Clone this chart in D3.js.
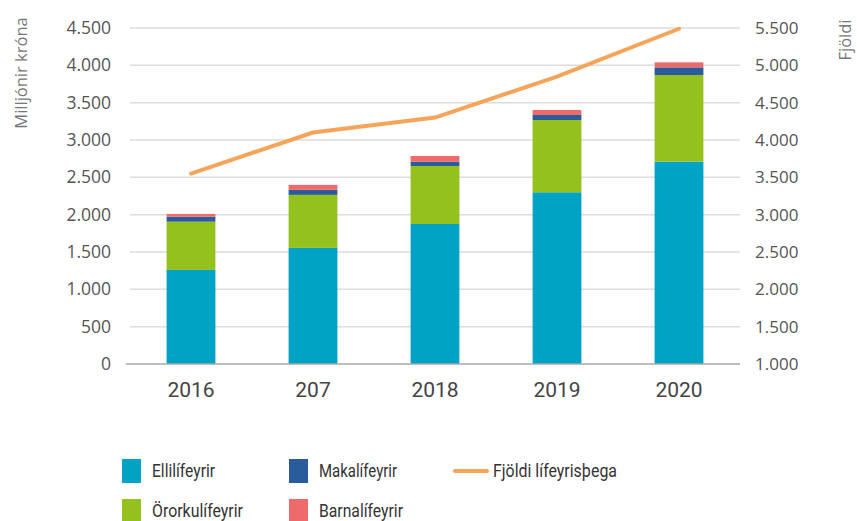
<!DOCTYPE html>
<html>
<head>
<meta charset="utf-8">
<script src="https://cdn.jsdelivr.net/npm/d3@7"></script>
<style>
  body { margin: 0; background: #fff; }
  svg { display: block; }
</style>
</head>
<body>
<svg id="chart" width="857" height="521"></svg>
<script>
const years = ["2016", "207", "2018", "2019", "2020"];
const ellilifeyrir = [1260, 1555, 1875, 2300, 2710];
const ororkulifeyrir = [646, 710, 777, 968, 1160];
const makalifeyrir = [67, 67, 57, 67, 103];
const barnalifeyrir = [37, 67, 77, 67, 67];
const fjoldi = [3550, 4100, 4300, 4850, 5490];
const leftTicks = [0, 500, 1000, 1500, 2000, 2500, 3000, 3500, 4000, 4500];
const rightTicks = [1000, 1500, 2000, 2500, 3000, 3500, 4000, 4500, 5000, 5500];

const seriesNames = ["Ellilífeyrir", "Örorkulífeyrir", "Makalífeyrir", "Barnalífeyrir"];
const colors = ["#00a3c4", "#95c11f", "#2a5c9c", "#ef6b6b"];
const lineColor = "#f5a55a";

const svg = d3.select("#chart");
const plotLeft = 130, plotRight = 740, plotTop = 28, plotBottom = 364;

const x = d3.scaleBand().domain(years).range([plotLeft, plotRight])
  .paddingInner(0.6).paddingOuter(0.3);
const y = d3.scaleLinear().domain([0, 4500]).range([plotBottom, plotTop]);
const y2 = d3.scaleLinear().domain([1000, 5500]).range([plotBottom, plotTop]);

const fmt = d => d3.format(",")(d).replace(/,/g, ".");

// grid
svg.append("g")
  .selectAll("line")
  .data(leftTicks.slice(1))
  .join("line")
  .attr("x1", plotLeft).attr("x2", plotRight)
  .attr("y1", d => y(d)).attr("y2", d => y(d))
  .attr("stroke", "#dcdcdc")
  .attr("stroke-width", 1.5);

// stacked bars
const table = years.map((yr, i) => ({
  year: yr,
  s0: ellilifeyrir[i], s1: ororkulifeyrir[i], s2: makalifeyrir[i], s3: barnalifeyrir[i]
}));
const stack = d3.stack().keys(["s0", "s1", "s2", "s3"])(table);

svg.append("g")
  .selectAll("g")
  .data(stack)
  .join("g")
  .attr("fill", (d, i) => colors[i])
  .selectAll("rect")
  .data(d => d)
  .join("rect")
  .attr("x", d => x(d.data.year))
  .attr("width", x.bandwidth())
  .attr("y", d => y(d[1]))
  .attr("height", d => y(d[0]) - y(d[1]));

// baseline
svg.append("line")
  .attr("x1", plotLeft - 4).attr("x2", plotRight)
  .attr("y1", plotBottom).attr("y2", plotBottom)
  .attr("stroke", "#a8a8a8")
  .attr("stroke-width", 1.5);

// line series
const line = d3.line()
  .x((d, i) => x(years[i]) + x.bandwidth() / 2)
  .y(d => y2(d));
svg.append("path")
  .datum(fjoldi)
  .attr("d", line)
  .attr("fill", "none")
  .attr("stroke", lineColor)
  .attr("stroke-width", 4)
  .attr("stroke-linecap", "round");

// left axis
const axisFont = "'Open Sans', 'Noto Sans', sans-serif";
const yAxis = svg.append("g")
  .attr("transform", `translate(${plotLeft - 19},0)`)
  .call(d3.axisLeft(y).tickValues(leftTicks).tickFormat(fmt).tickSize(0).tickPadding(0));
yAxis.select(".domain").remove();
yAxis.selectAll("text")
  .attr("font-family", axisFont)
  .attr("font-size", 17.5)
  .attr("fill", "#555");

// right axis
const y2Axis = svg.append("g")
  .attr("transform", `translate(${plotRight + 15},0)`)
  .call(d3.axisRight(y2).tickValues(rightTicks).tickFormat(fmt).tickSize(0).tickPadding(0));
y2Axis.select(".domain").remove();
y2Axis.selectAll("text")
  .attr("font-family", axisFont)
  .attr("font-size", 17)
  .attr("fill", "#555");

// x axis
const xAxis = svg.append("g")
  .attr("transform", `translate(0,${plotBottom + 12})`)
  .call(d3.axisBottom(x).tickSize(0).tickPadding(6));
xAxis.select(".domain").remove();
xAxis.selectAll("text")
  .attr("font-family", "Roboto, sans-serif")
  .attr("font-size", 21)
  .attr("fill", "#444");

// axis titles
svg.append("text")
  .attr("transform", "translate(27,73) rotate(-90)")
  .attr("text-anchor", "middle")
  .attr("font-family", axisFont)
  .attr("font-size", 16.5)
  .attr("fill", "#777")
  .text("Milljónir króna");
svg.append("text")
  .attr("transform", "translate(851,40) rotate(-90)")
  .attr("text-anchor", "middle")
  .attr("font-family", axisFont)
  .attr("font-size", 16.5)
  .attr("fill", "#777")
  .text("Fjöldi");

// legend
const legendFont = "Roboto, sans-serif";
const legendItems = [
  { name: seriesNames[0], color: colors[0], x: 122, y: 459, w: 63 },
  { name: seriesNames[2], color: colors[2], x: 289, y: 459, w: 78 },
  { name: seriesNames[1], color: colors[1], x: 122, y: 499, w: 91 },
  { name: seriesNames[3], color: colors[3], x: 289, y: 499, w: 84 }
];
const lg = svg.append("g");
legendItems.forEach(it => {
  lg.append("rect")
    .attr("x", it.x).attr("y", it.y)
    .attr("width", 19).attr("height", 24)
    .attr("fill", it.color);
  lg.append("text")
    .attr("x", it.x + 30).attr("y", it.y + 18)
    .attr("font-family", legendFont)
    .attr("font-size", 19)
    .attr("textLength", it.w)
    .attr("lengthAdjust", "spacingAndGlyphs")
    .attr("fill", "#333")
    .text(it.name);
});
lg.append("line")
  .attr("x1", 455).attr("x2", 487)
  .attr("y1", 471).attr("y2", 471)
  .attr("stroke", lineColor)
  .attr("stroke-width", 4)
  .attr("stroke-linecap", "round");
lg.append("text")
  .attr("x", 493).attr("y", 477)
  .attr("font-family", legendFont)
  .attr("font-size", 19)
  .attr("textLength", 124)
  .attr("lengthAdjust", "spacingAndGlyphs")
  .attr("fill", "#333")
  .text("Fjöldi lífeyrisþega");
</script>
</body>
</html>
